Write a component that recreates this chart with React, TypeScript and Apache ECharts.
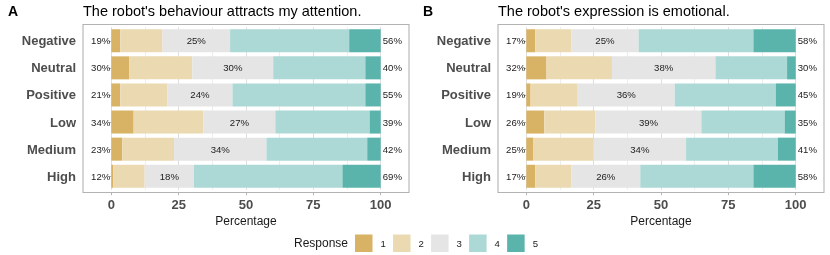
import React, { useEffect, useRef } from 'react';
import * as echarts from 'echarts';

const categories = ['Negative', 'Neutral', 'Positive', 'Low', 'Medium', 'High'];
const responses = ['1', '2', '3', '4', '5'];
const colors = ['#D8B365', '#EBD9B2', '#E5E5E5', '#ACD9D5', '#5AB4AC'];

// Panel A: share (%) of each response, rows in category order
const a1 = [3.3, 6.7, 3.3, 8.3, 4.1, 0.7];
const a2 = [15.7, 23.4, 17.5, 25.9, 19.2, 11.7];
const a3 = [25.1, 30.0, 24.2, 26.7, 34.3, 18.3];
const a4 = [44.2, 34.2, 49.3, 35.0, 37.4, 55.1];
const a5 = [11.7, 5.7, 5.7, 4.1, 5.0, 14.2];

// Panel B
const b1 = [3.3, 7.5, 1.6, 6.7, 2.5, 3.3];
const b2 = [13.4, 24.3, 17.5, 19.0, 22.5, 13.4];
const b3 = [25.0, 38.4, 36.0, 39.3, 34.3, 25.6];
const b4 = [42.6, 26.6, 37.5, 30.9, 34.1, 42.0];
const b5 = [15.7, 3.2, 7.4, 4.1, 6.6, 15.7];

const tagA = 'A';
const tagB = 'B';
const titleA = "The robot's behaviour attracts my attention.";
const titleB = "The robot's expression is emotional.";
const xTicks = [0, 25, 50, 75, 100];
const gridTicks = [0, 12.5, 25, 37.5, 50, 62.5, 75, 87.5, 100];
const xName = 'Percentage';
const legendName = 'Response';

const FONT = "'Liberation Sans', Arial, Helvetica, sans-serif";

const panels = [
  { data: [a1, a2, a3, a4, a5], left: 83, tag: tagA, title: titleA },
  { data: [b1, b2, b3, b4, b5], left: 498, tag: tagB, title: titleB },
];

const PANEL_W = 326;
const PANEL_TOP = 24.5;
const PANEL_H = 168;
const GRID_TOP = 27.2;
const GRID_H = 162.6;
const X_MIN = -10.5;
const X_MAX = 110.5;

export default function App() {
  const ref = useRef<HTMLDivElement>(null);
  useEffect(() => {
    if (!ref.current) return;
    const chart = echarts.init(ref.current, undefined, { renderer: 'svg' });

    const grids: any[] = [];
    const xAxes: any[] = [];
    const yAxes: any[] = [];
    const series: any[] = [];
    const titles: any[] = [];
    const graphics: any[] = [];

    panels.forEach((p, pi) => {
      grids.push({ left: p.left, top: GRID_TOP, width: PANEL_W, height: GRID_H, containLabel: false });
      xAxes.push({
        gridIndex: pi, type: 'value', min: X_MIN, max: X_MAX,
        axisLine: { show: false },
        axisTick: { show: false, customValues: gridTicks },
        axisLabel: { show: false },
        splitLine: { show: true, lineStyle: { color: ['#DEDEDE', '#EDEDED'], width: 1 } },
      });
      xAxes.push({
        gridIndex: pi, type: 'value', min: X_MIN, max: X_MAX, position: 'bottom', offset: 2.7,
        axisLine: { show: false },
        axisTick: { show: true, customValues: xTicks, length: 2.7, lineStyle: { color: '#B3B3B3', width: 1 } },
        axisLabel: { customValues: xTicks, fontWeight: 'bold', fontSize: 13, color: '#4D4D4D', margin: 5, fontFamily: FONT },
        splitLine: { show: false },
        name: xName, nameLocation: 'middle', nameGap: 20,
        nameTextStyle: { fontSize: 12, color: '#1A1A1A', fontFamily: FONT },
      });
      yAxes.push({
        gridIndex: pi, type: 'category', data: categories, inverse: true,
        axisLine: { show: false },
        axisTick: { show: true, length: 2.7, alignWithLabel: true, lineStyle: { color: '#B3B3B3' } },
        axisLabel: { fontWeight: 'bold', fontSize: 13, color: '#4D4D4D', margin: 7, fontFamily: FONT },
        splitLine: { show: false },
      });
      const d = p.data;
      d.forEach((arr, k) => {
        let label: any = { show: false };
        const base = { show: true, fontSize: 9.6, color: '#222', fontFamily: FONT };
        if (k === 0) {
          label = { ...base, position: 'left', distance: 1, formatter: (prm: any) => Math.round(d[0][prm.dataIndex] + d[1][prm.dataIndex]) + '%' };
        } else if (k === 2) {
          label = { ...base, position: 'inside', formatter: (prm: any) => Math.round(d[2][prm.dataIndex]) + '%' };
        } else if (k === 4) {
          label = { ...base, position: 'right', distance: 2, formatter: (prm: any) => Math.round(d[3][prm.dataIndex] + d[4][prm.dataIndex]) + '%' };
        }
        series.push({
          type: 'bar', name: responses[k], stack: 'panel' + pi,
          xAxisIndex: pi * 2, yAxisIndex: pi,
          data: arr, barWidth: '85%',
          itemStyle: { color: colors[k] },
          label, z: 3,
        });
      });
      titles.push({ text: p.tag, left: p.left - 75, top: 4, padding: 0, textStyle: { fontSize: 14, fontWeight: 'bold', color: '#000', fontFamily: FONT } });
      titles.push({ text: p.title, left: p.left, top: 3.5, padding: 0, textStyle: { fontSize: 14.5, fontWeight: 'normal', color: '#000', fontFamily: FONT } });
      graphics.push({
        type: 'rect', silent: true, z: 100,
        shape: { x: p.left, y: PANEL_TOP, width: PANEL_W, height: PANEL_H },
        style: { fill: 'none', stroke: '#B3B3B3', lineWidth: 1.1 },
      });
    });

    graphics.push({
      type: 'text', left: 294, top: 236.5, silent: true,
      style: { text: legendName, fontSize: 12, fill: '#1A1A1A', fontFamily: FONT },
    });

    chart.setOption({
      animation: false,
      textStyle: { fontFamily: FONT },
      title: titles,
      grid: grids,
      xAxis: xAxes,
      yAxis: yAxes,
      series,
      legend: {
        data: responses, left: 355, top: 234.5, padding: 0,
        itemWidth: 17.5, itemHeight: 17.5, itemGap: 7.2, icon: 'rect', selectedMode: false,
        textStyle: { fontSize: 9.6, color: '#1A1A1A', padding: [0, 0, 0, 3], fontFamily: FONT },
      },
      graphic: graphics,
    });
    return () => chart.dispose();
  }, []);
  return <div ref={ref} style={{ position: 'fixed', left: 0, top: 0, width: 830, height: 255 }} />;
}
